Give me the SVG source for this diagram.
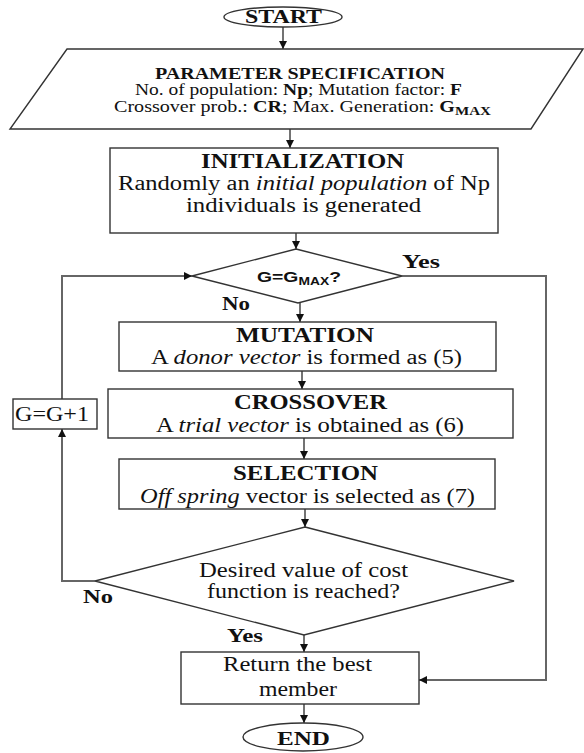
<svg xmlns="http://www.w3.org/2000/svg" width="584" height="753" viewBox="0 0 584 753">
<style>
.shape{fill:#fff;stroke:#333;stroke-width:1.4}
.conn{fill:none;stroke:#444;stroke-width:1.5}
.side{stroke:#666;stroke-width:2}
.t{font-family:"Liberation Serif","Times New Roman",serif;fill:#111}
.b{font-weight:bold}
.i{font-style:italic}
.s{font-family:"Liberation Sans",Arial,sans-serif;font-weight:bold;fill:#111}
</style>
<defs>
<marker id="ah" viewBox="0 0 10 10" refX="10" refY="5" markerWidth="8" markerHeight="8" markerUnits="userSpaceOnUse" orient="auto">
<path d="M0,0 L10,5 L0,10 z" fill="#111"/>
</marker>
</defs>
<rect width="584" height="753" fill="#fff"/>
<g id="connectors">
<path class="conn" d="M283,27 V49" marker-end="url(#ah)"/>
<path class="conn" d="M290,129 V148" marker-end="url(#ah)"/>
<path class="conn" d="M296,233 V249" marker-end="url(#ah)"/>
<path class="conn side" d="M62,399 V276 H192" marker-end="url(#ah)"/>
<path class="conn side" d="M402,276 H546 V680 H419" marker-end="url(#ah)"/>
<path class="conn" d="M300,303 V322" marker-end="url(#ah)"/>
<path class="conn" d="M302,371 V389" marker-end="url(#ah)"/>
<path class="conn" d="M304,438 V459" marker-end="url(#ah)"/>
<path class="conn" d="M305,509 V527" marker-end="url(#ah)"/>
<path class="conn side" d="M95,581 H62 V429" marker-end="url(#ah)"/>
<path class="conn" d="M304,635 V652" marker-end="url(#ah)"/>
<path class="conn" d="M304,704 V723" marker-end="url(#ah)"/>
</g>
<g id="start">
<ellipse class="shape" cx="283" cy="17" rx="59" ry="10"/>
<text class="t b" x="245" y="23" font-size="19" textLength="77" lengthAdjust="spacingAndGlyphs">START</text>
</g>
<g id="params">
<polygon class="shape" points="67,49 583,49 531,129 10,129"/>
<text class="t b" x="155" y="79" font-size="16" textLength="290" lengthAdjust="spacingAndGlyphs">PARAMETER SPECIFICATION</text>
<text class="t" x="135" y="95" font-size="16" textLength="327" lengthAdjust="spacingAndGlyphs">No. of population: <tspan class="b">Np</tspan>; Mutation factor: <tspan class="b">F</tspan></text>
<text class="t" x="114" y="112" font-size="16" textLength="377" lengthAdjust="spacingAndGlyphs">Crossover prob.: <tspan class="b">CR</tspan>; Max. Generation: <tspan class="b">G</tspan><tspan class="b" font-size="12" dy="3">MAX</tspan></text>
</g>
<g id="init">
<rect class="shape" x="110" y="148" width="388" height="85"/>
<text class="t b" x="201" y="168" font-size="20" textLength="203" lengthAdjust="spacingAndGlyphs">INITIALIZATION</text>
<text class="t" x="118" y="190" font-size="20" textLength="372" lengthAdjust="spacingAndGlyphs">Randomly an <tspan class="i">initial population</tspan> of Np</text>
<text class="t" x="186" y="212" font-size="20" textLength="235" lengthAdjust="spacingAndGlyphs">individuals is generated</text>
</g>
<g id="check-gmax">
<polygon class="shape" points="296,249 402,276 298,303 192,276"/>
<text class="s" x="257" y="282" font-size="14" textLength="84" lengthAdjust="spacingAndGlyphs">G=G<tspan font-size="10" dy="3">MAX</tspan><tspan dy="-3">?</tspan></text>
<text class="t b" x="402" y="268" font-size="18" textLength="38" lengthAdjust="spacingAndGlyphs">Yes</text>
<text class="t b" x="222" y="310" font-size="18" textLength="28" lengthAdjust="spacingAndGlyphs">No</text>
</g>
<g id="mutation">
<rect class="shape" x="119" y="322" width="377" height="49"/>
<text class="t b" x="236" y="342" font-size="20" textLength="138" lengthAdjust="spacingAndGlyphs">MUTATION</text>
<text class="t" x="151" y="364" font-size="20" textLength="311" lengthAdjust="spacingAndGlyphs">A <tspan class="i">donor vector</tspan> is formed as (5)</text>
</g>
<g id="crossover">
<rect class="shape" x="108" y="389" width="405" height="49"/>
<text class="t b" x="234" y="409" font-size="20" textLength="153" lengthAdjust="spacingAndGlyphs">CROSSOVER</text>
<text class="t" x="156" y="432" font-size="20" textLength="308" lengthAdjust="spacingAndGlyphs">A <tspan class="i">trial vector</tspan> is obtained as (6)</text>
</g>
<g id="selection">
<rect class="shape" x="119" y="459" width="376" height="50"/>
<text class="t b" x="233" y="480" font-size="20" textLength="145" lengthAdjust="spacingAndGlyphs">SELECTION</text>
<text class="t" x="140" y="503" font-size="20" textLength="335" lengthAdjust="spacingAndGlyphs"><tspan class="i">Off spring</tspan> vector is selected as (7)</text>
</g>
<g id="increment">
<rect class="shape" x="13" y="399" width="84" height="30"/>
<text class="t" x="15" y="421" font-size="20" textLength="74" lengthAdjust="spacingAndGlyphs">G=G+1</text>
</g>
<g id="check-cost">
<polygon class="shape" points="305,527 514,581 304,635 95,581"/>
<text class="t" x="199" y="577" font-size="20" textLength="209" lengthAdjust="spacingAndGlyphs">Desired value of cost</text>
<text class="t" x="207" y="598" font-size="20" textLength="193" lengthAdjust="spacingAndGlyphs">function is reached?</text>
<text class="t b" x="83" y="603" font-size="18" textLength="30" lengthAdjust="spacingAndGlyphs">No</text>
<text class="t b" x="227" y="642" font-size="18" textLength="36" lengthAdjust="spacingAndGlyphs">Yes</text>
</g>
<g id="return">
<rect class="shape" x="181" y="652" width="238" height="52"/>
<text class="t" x="223" y="671" font-size="20" textLength="149" lengthAdjust="spacingAndGlyphs">Return the best</text>
<text class="t" x="259" y="696" font-size="20" textLength="78" lengthAdjust="spacingAndGlyphs">member</text>
</g>
<g id="end">
<ellipse class="shape" cx="303" cy="737" rx="60" ry="14"/>
<text class="t b" x="277" y="745" font-size="19" textLength="53" lengthAdjust="spacingAndGlyphs">END</text>
</g>
</svg>
